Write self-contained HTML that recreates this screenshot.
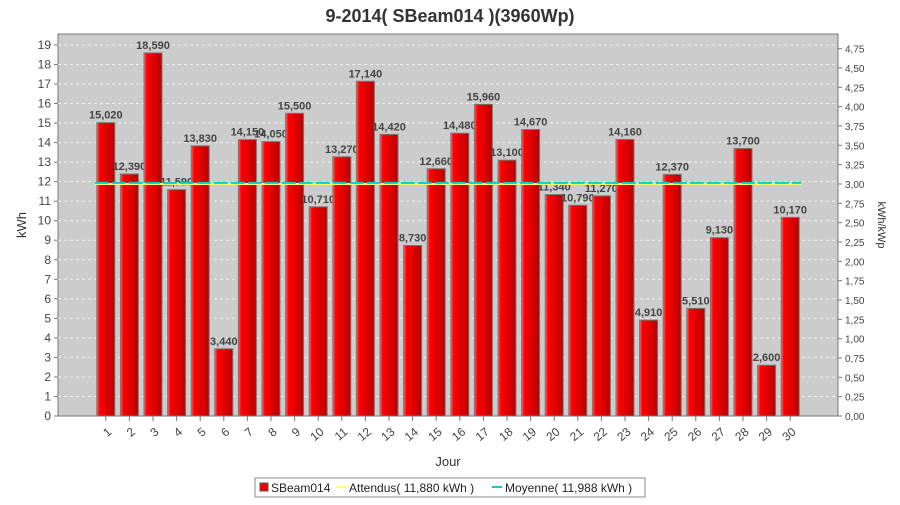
<!DOCTYPE html>
<html><head><meta charset="utf-8"><style>
body{margin:0;background:#fff;font-family:"Liberation Sans",sans-serif}
svg text{font-family:"Liberation Sans",sans-serif}
</style></head><body>
<svg width="900" height="500" xmlns="http://www.w3.org/2000/svg">
<defs>
<linearGradient id="bg" x1="0" x2="1" y1="0" y2="0">
<stop offset="0" stop-color="#ff6a6a"/><stop offset="0.15" stop-color="#ff0000"/><stop offset="1" stop-color="#b80000"/>
</linearGradient>
</defs>
<text x="450" y="22" text-anchor="middle" font-size="18" font-weight="bold" fill="#333">9-2014( SBeam014 )(3960Wp)</text>
<rect x="58" y="34" width="780" height="382" fill="#cccccc" stroke="#777"/>
<g id="grid"></g><g id="bars"></g><g id="lines"></g><g id="axes"></g>
<text x="26" y="225" transform="rotate(-90 26 225)" text-anchor="middle" font-size="13" fill="#333">kWh</text>
<text x="878" y="225" transform="rotate(90 878 225)" text-anchor="middle" font-size="11" fill="#333">kWh/kWp</text>
<text x="448" y="466" text-anchor="middle" font-size="13" fill="#333">Jour</text>
<g>
<rect x="255" y="478" width="390" height="19" fill="#fff" stroke="#888"/>
<rect x="260" y="483" width="8" height="8" fill="#e00" stroke="#555"/>
<text x="271" y="492" font-size="12" fill="#222">SBeam014</text>
<line x1="336" y1="487" x2="346" y2="487" stroke="#ffff66" stroke-width="2"/>
<text x="349" y="492" font-size="12" fill="#222">Attendus( 11,880 kWh )</text>
<line x1="492" y1="487" x2="502" y2="487" stroke="#00cccc" stroke-width="2"/>
<text x="505" y="492" font-size="12" fill="#222">Moyenne( 11,988 kWh )</text>
</g>
</svg>
<script>
const days=[1,2,3,4,5,6,7,8,9,10,11,12,13,14,15,16,17,18,19,20,21,22,23,24,25,26,27,28,29,30];
const values=[15.02,12.39,18.59,11.59,13.83,3.44,14.15,14.05,15.5,10.71,13.27,17.14,14.42,8.73,12.66,14.48,15.96,13.1,14.67,11.34,10.79,11.27,14.16,4.91,12.37,5.51,9.13,13.7,2.6,10.17];
const expected=11.88;
const average=11.988;
const wp=3.96;
const NS="http://www.w3.org/2000/svg";
const pLeft=58,pRight=838,pTop=34,pBottom=416;
const yScale=v=>pBottom-v*19.53;
const step=23.6, x0=pLeft+36;
const xc=i=>x0+step*i+step/2;
function mk(t,a,p){const e=document.createElementNS(NS,t);for(const k in a)e.setAttribute(k,a[k]);p.appendChild(e);return e;}
const grid=document.getElementById('grid'),axes=document.getElementById('axes'),bars=document.getElementById('bars'),lines=document.getElementById('lines');
for(let v=0;v<=19;v++){const y=yScale(v);
 if(v>0){const g=mk('line',{x1:pLeft,x2:pRight,y1:y,y2:y,stroke:'#eee','stroke-dasharray':'3,3'},grid);
 
 }
 mk('line',{x1:pLeft-4,x2:pLeft,y1:y,y2:y,stroke:'#777'},axes);
 const t=mk('text',{x:pLeft-7,y:y+4,'text-anchor':'end','font-size':'12',fill:'#444'},axes);t.textContent=v;
 
 }
for(let k=0;k<=19;k++){const r=k*0.25;const y=yScale(r*wp);
 mk('line',{x1:pRight,x2:pRight+4,y1:y,y2:y,stroke:'#777'},axes);
 const t=mk('text',{x:pRight+7,y:y+4,'font-size':'10',fill:'#444'},axes);t.textContent=r.toFixed(2).replace('.',',');
 
 }
days.forEach((d,i)=>{const c=xc(i),v=values[i],y=yScale(v);
 const r=mk('rect',{x:c-9,y:y,width:18,height:pBottom-y,fill:'url(#bg)',stroke:'#777'},bars);
 
 
 const l=mk('text',{x:c,y:y-4,'text-anchor':'middle','font-size':'11','font-weight':'bold','font-family':'Liberation Serif',fill:'#444'},bars);
 l.textContent=v.toFixed(3).replace('.',',');
 
 
 mk('line',{x1:c,x2:c,y1:pBottom,y2:pBottom+5,stroke:'#777'},axes);
 const t=mk('text',{x:c+4,y:pBottom+18,'text-anchor':'end','font-size':'12',fill:'#444',transform:`rotate(-40 ${c+4} ${pBottom+14})`},axes);
 t.textContent=d;
 
 });
const lx1=xc(0)-11,lx2=xc(days.length-1)+11;
const a=mk('line',{x1:lx1,x2:lx2,y1:yScale(expected),y2:yScale(expected),stroke:'#ffff66','stroke-width':2},lines);


const m=mk('line',{x1:lx1,x2:lx2,y1:yScale(average)+1,y2:yScale(average)+1,stroke:'#00cccc','stroke-width':2,'stroke-dasharray':'14,3'},lines);


</script>
</body></html>
